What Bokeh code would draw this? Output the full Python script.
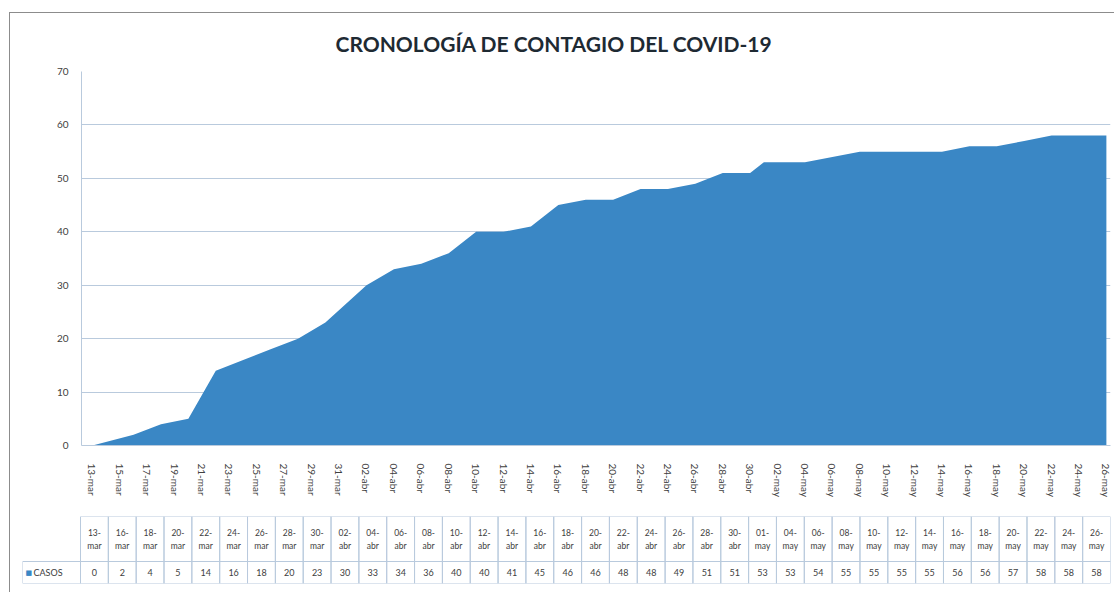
import pandas as pd
from bokeh.plotting import figure
from bokeh.models import Range1d, FixedTicker, Title
from bokeh.layouts import column
from bokeh.embed import file_html
from bokeh.resources import INLINE
from bokeh.core.properties import value

# ---------------- data ----------------
titulo = "CRONOLOGÍA DE CONTAGIO DEL COVID-19"
serie = "CASOS"
fechas = ["2020-03-13", "2020-03-16", "2020-03-18", "2020-03-20", "2020-03-22",
          "2020-03-24", "2020-03-26", "2020-03-28", "2020-03-30", "2020-04-02",
          "2020-04-04", "2020-04-06", "2020-04-08", "2020-04-10", "2020-04-12",
          "2020-04-14", "2020-04-16", "2020-04-18", "2020-04-20", "2020-04-22",
          "2020-04-24", "2020-04-26", "2020-04-28", "2020-04-30", "2020-05-01",
          "2020-05-04", "2020-05-06", "2020-05-08", "2020-05-10", "2020-05-12",
          "2020-05-14", "2020-05-16", "2020-05-18", "2020-05-20", "2020-05-22",
          "2020-05-24", "2020-05-26"]
casos = [0, 2, 4, 5, 14, 16, 18, 20, 23, 30, 33, 34, 36, 40, 40, 41, 45, 46, 46,
         48, 48, 49, 51, 51, 53, 53, 54, 55, 55, 55, 55, 56, 56, 57, 58, 58, 58]
etiquetas_eje = ["13-mar", "15-mar", "17-mar", "19-mar", "21-mar", "23-mar", "25-mar",
                 "27-mar", "29-mar", "31-mar", "02-abr", "04-abr", "06-abr", "08-abr",
                 "10-abr", "12-abr", "14-abr", "16-abr", "18-abr", "20-abr", "22-abr",
                 "24-abr", "26-abr", "28-abr", "30-abr", "02-may", "04-may", "06-may",
                 "08-may", "10-may", "12-may", "14-may", "16-may", "18-may", "20-may",
                 "22-may", "24-may", "26-may"]
yticks = [0, 10, 20, 30, 40, 50, 60, 70]
meses = {3: "mar", 4: "abr", 5: "may"}
meses_inv = {v: k for k, v in meses.items()}

# ---------------- derived ----------------
origen = pd.Timestamp(fechas[0])
xs = [(pd.Timestamp(f) - origen).days for f in fechas]


def dia(etq):
    d, m = etq.split("-")
    return (pd.Timestamp(origen.year, meses_inv[m], int(d)) - origen).days


tick_x = [dia(e) for e in etiquetas_eje]
tabla_dia = [f"{pd.Timestamp(f).day:02d}-" for f in fechas]
tabla_mes = [meses[pd.Timestamp(f).month] for f in fechas]

FONT = "Lato"
AZUL = "#3a87c5"
GRID = "#b9cadd"
TXT = "#404040"

# ---------------- main chart ----------------
p = figure(width=1104, height=503, output_backend="svg", toolbar_location=None,
           x_range=Range1d(-0.8, tick_x[-1] + 0.3), y_range=Range1d(yticks[0], yticks[-1]),
           min_border_left=71, min_border_right=4, min_border_top=58, min_border_bottom=71,
           background_fill_color="white", border_fill_color="white", frame_align=False)
p.title = Title(text=titulo, align="left", offset=254, standoff=28, vertical_align="top",
                text_font=FONT, text_font_size="21px", text_font_style="bold",
                text_color="#1e2a33")
p.varea(x=xs, y1=0, y2=casos, fill_color=AZUL)

p.outline_line_color = None
p.xgrid.grid_line_color = None
p.ygrid.grid_line_color = GRID
p.ygrid.grid_line_width = 1
p.ygrid.ticker = FixedTicker(ticks=yticks)

p.yaxis.ticker = FixedTicker(ticks=yticks)
p.yaxis.major_tick_out = 0
p.yaxis.major_tick_in = 0
p.yaxis.minor_tick_out = 0
p.yaxis.minor_tick_in = 0
p.yaxis.axis_line_color = GRID
p.yaxis.major_label_standoff = 13
p.yaxis.major_label_text_font = FONT
p.yaxis.major_label_text_font_size = "10px"
p.yaxis.major_label_text_color = TXT

p.xaxis.ticker = FixedTicker(ticks=tick_x)
p.xaxis.major_label_overrides = {t: e for t, e in zip(tick_x, etiquetas_eje)}
p.xaxis.major_label_orientation = "vertical"
p.xaxis.major_tick_out = 0
p.xaxis.major_tick_in = 0
p.xaxis.minor_tick_out = 0
p.xaxis.minor_tick_in = 0
p.xaxis.axis_line_color = GRID
p.xaxis.major_label_standoff = 18
p.xaxis.major_label_text_font = FONT
p.xaxis.major_label_text_font_size = "10px"
p.xaxis.major_label_text_color = TXT

# ---------------- data table ----------------
n = len(casos)
col_w = (1110 - 80) / n          # pixel width of one table column
leg_w = (80 - 22) / col_w        # legend cell width in column units
ROW_V = 22                       # value row height (px)
ROW_D = 45                       # date row height (px)

t = figure(width=1104, height=76, output_backend="svg", toolbar_location=None,
           x_range=Range1d(-leg_w, n), y_range=Range1d(0, ROW_V + ROW_D),
           min_border_left=12, min_border_right=4, min_border_top=0, min_border_bottom=9,
           background_fill_color="white", border_fill_color="white", frame_align=False)
t.axis.visible = False
t.grid.visible = False
t.outline_line_color = None

idx = list(range(n))
t.quad(left=idx, right=[i + 1 for i in idx], bottom=ROW_V, top=ROW_V + ROW_D,
       fill_color=None, line_color=GRID, line_width=1)
t.quad(left=idx, right=[i + 1 for i in idx], bottom=0, top=ROW_V,
       fill_color=None, line_color=GRID, line_width=1)
t.quad(left=[-leg_w], right=[0], bottom=[0], top=[ROW_V],
       fill_color=None, line_color=GRID, line_width=1)

cx = [i + 0.5 for i in idx]
t.text(x=cx, y=[ROW_V + ROW_D - 16] * n, text=tabla_dia, text_align="center",
       text_baseline="middle", text_font=value(FONT), text_font_size="8.5px", text_color=TXT)
t.text(x=cx, y=[ROW_V + ROW_D - 29] * n, text=tabla_mes, text_align="center",
       text_baseline="middle", text_font=value(FONT), text_font_size="8.5px", text_color=TXT)
t.text(x=cx, y=[ROW_V / 2] * n, text=[str(c) for c in casos], text_align="center",
       text_baseline="middle", text_font=value(FONT), text_font_size="9px", text_color=TXT)
t.text(x=[-leg_w], y=[ROW_V / 2], text=["■"], x_offset=3, text_align="left",
       text_baseline="middle", text_font=value("DejaVu Sans"), text_font_size="7px",
       text_color=AZUL)
t.text(x=[-leg_w], y=[ROW_V / 2], text=[serie], x_offset=11, text_align="left",
       text_baseline="middle", text_font=value(FONT), text_font_size="9px", text_color=TXT)

layout = column(p, t, spacing=0, margin=(12, 0, 0, 9),
                styles={"border-top": "1px solid #8c8c8c", "border-left": "1px solid #8c8c8c"})

open("out.html", "w").write(file_html(layout, INLINE))
